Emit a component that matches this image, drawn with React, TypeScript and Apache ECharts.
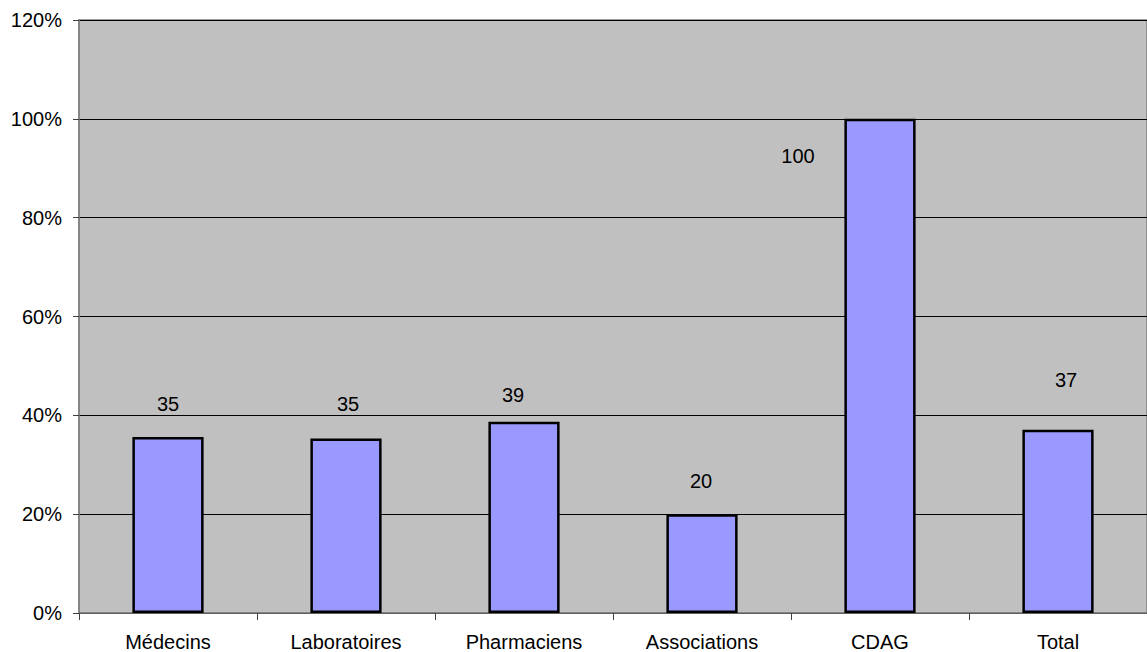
import React, { useEffect, useRef } from "react";
import * as echarts from "echarts";

const categories = ["Médecins", "Laboratoires", "Pharmaciens", "Associations", "CDAG", "Total"];
const values = [35.6, 35.3, 38.7, 20, 100, 37.1];
const labelTexts = ["35", "35", "39", "20", "100", "37"];
const yTicks = [0, 20, 40, 60, 80, 100, 120];

// label placement offsets (style only)
const labelOffsets: [number, number][] = [
  [0, -23],
  [2, -25],
  [-11, -17],
  [-1, -23],
  [-82, 47],
  [8, -40],
];

export default function App() {
  const ref = useRef<HTMLDivElement>(null);
  useEffect(() => {
    if (!ref.current) return;
    const chart = echarts.init(ref.current, null, { renderer: "svg" });
    const font = "Liberation Sans, Arial, sans-serif";
    chart.setOption({
      animation: false,
      backgroundColor: "#ffffff",
      grid: {
        left: 79,
        right: 0,
        top: 20,
        bottom: 38.5,
        show: true,
        backgroundColor: "#C0C0C0",
        borderColor: "#808080",
        borderWidth: 1.5,
      },
      xAxis: {
        type: "category",
        data: categories,
        boundaryGap: true,
        axisLine: { show: true, lineStyle: { color: "#808080", width: 1.5 } },
        axisTick: { show: true, length: 7, alignWithLabel: false, lineStyle: { color: "#404040" } },
        axisLabel: { color: "#000", fontSize: 20, fontFamily: font, margin: 19 },
        splitLine: { show: false },
      },
      yAxis: {
        type: "value",
        min: yTicks[0],
        max: yTicks[yTicks.length - 1],
        interval: 20,
        axisLine: { show: true, lineStyle: { color: "#808080", width: 1.5 } },
        axisTick: { show: true, length: 6, lineStyle: { color: "#404040" } },
        axisLabel: {
          color: "#000",
          fontSize: 20,
          fontFamily: font,
          margin: 17,
          formatter: (v: number) => `${v}%`,
        },
        splitLine: { show: true, lineStyle: { color: "#000", width: 1 } },
      },
      series: [
        {
          type: "bar",
          barWidth: "40%",
          data: values.map((v, i) => ({
            value: v,
            label: {
              show: true,
              position: "top",
              distance: 0,
              offset: labelOffsets[i],
              formatter: () => labelTexts[i],
              color: "#000",
              fontSize: 20,
              fontFamily: font,
            },
          })),
          itemStyle: { color: "#9999FF", borderColor: "#000", borderWidth: 2.5 },
        },
      ],
    });
    return () => chart.dispose();
  }, []);
  return (
    <div
      ref={ref}
      style={{ position: "fixed", left: 0, top: 0, width: 1147, height: 652 }}
    />
  );
}
